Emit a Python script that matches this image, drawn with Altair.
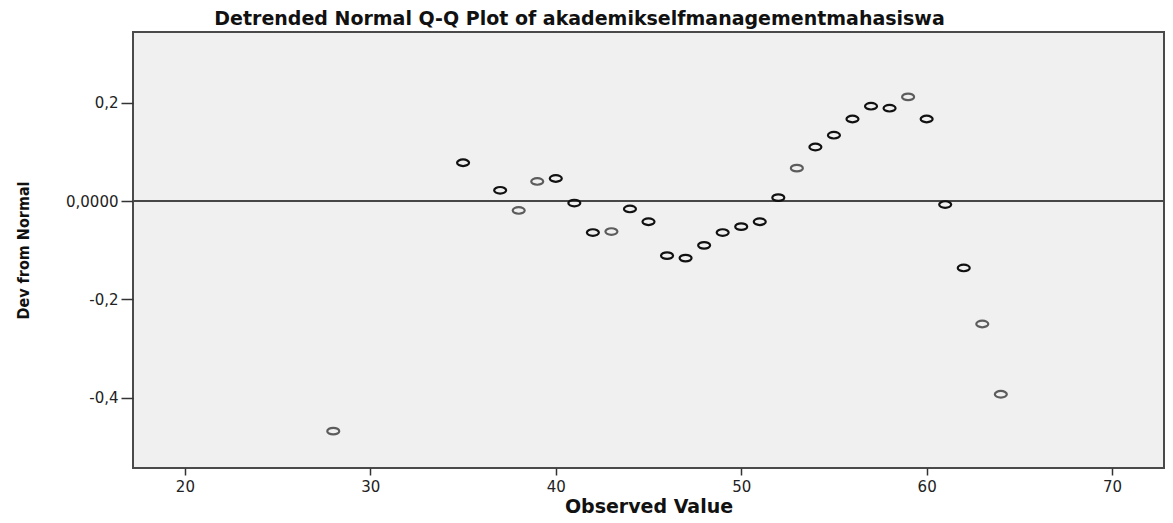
import altair as alt
import pandas as pd

# ---- data ----
observed = [28, 35, 37, 38, 39, 40, 41, 42, 43, 44, 45, 46, 47, 48, 49,
            50, 51, 52, 53, 54, 55, 56, 57, 58, 59, 60, 61, 62, 63, 64]
deviation = [-0.468, 0.078, 0.022, -0.019, 0.040, 0.046, -0.004, -0.064, -0.062, -0.016,
             -0.042, -0.111, -0.116, -0.090, -0.064, -0.052, -0.042, 0.007, 0.067, 0.110,
             0.134, 0.167, 0.193, 0.189, 0.212, 0.167, -0.007, -0.136, -0.250, -0.393]
shade = ["light", "dark", "dark", "light", "light", "dark", "dark", "dark", "light", "dark",
         "dark", "dark", "dark", "dark", "dark", "dark", "dark", "dark", "light", "dark",
         "dark", "dark", "dark", "dark", "light", "dark", "dark", "dark", "light", "light"]

x_ticks = [20, 30, 40, 50, 60, 70]
y_ticks = [-0.4, -0.2, 0.0, 0.2]
y_tick_labels = ["-0,4", "-0,2", "0,0000", "0,2"]
reference_line = [0.0]

df = pd.DataFrame({"observed": observed, "deviation": deviation, "shade": shade})
ref = pd.DataFrame({"ref": reference_line})

# label expression built from the tick label list
expr = "''"
for v, lab in zip(y_ticks, y_tick_labels):
    expr = f"abs(datum.value - ({v})) < 1e-6 ? '{lab}' : ({expr})"

x_scale = alt.Scale(domain=[17.2, 72.8], nice=False, zero=False)
y_scale = alt.Scale(domain=[-0.543, 0.344], nice=False, zero=False)

ellipse = "M -1 0 A 1 0.55 0 1 1 1 0 A 1 0.55 0 1 1 -1 0 Z"

points = alt.Chart(df).mark_point(
    shape=ellipse, filled=False, size=144, strokeWidth=2.2, opacity=1
).encode(
    x=alt.X("observed:Q", scale=x_scale, axis=alt.Axis(
        values=x_ticks, title="Observed Value", grid=False, domain=False,
        tickSize=7, tickWidth=1.5, tickColor="#333333", labelPadding=4,
        labelFont="DejaVu Sans", labelFontSize=15, labelColor="#222222",
        titleFont="DejaVu Sans", titleFontSize=19, titleFontWeight="bold",
        titleColor="#111111", titleBaseline="alphabetic", titleY=44)),
    y=alt.Y("deviation:Q", scale=y_scale, axis=alt.Axis(
        values=y_ticks, labelExpr=expr, title="Dev from Normal", grid=False,
        domain=False, tickSize=12, tickWidth=1.5, tickColor="#333333",
        labelPadding=3, labelFont="DejaVu Sans", labelFontSize=15,
        labelColor="#222222",
        titleFont="DejaVu Sans Condensed, Liberation Sans Narrow, sans-serif",
        titleFontSize=16, titleFontWeight="bold", titleColor="#111111",
        titleAngle=270, titleAlign="center", titleBaseline="middle",
        titleX=-110, titleY=218)),
    color=alt.Color("shade:N", scale=alt.Scale(domain=["dark", "light"],
                    range=["#111111", "#5c5c5c"]), legend=None),
)

rule = alt.Chart(ref).mark_rule(color="#474747", strokeWidth=2).encode(
    y=alt.Y("ref:Q", scale=y_scale)
)

chart = alt.layer(rule, points).properties(
    width=1031, height=436,
    padding={"left": 125, "top": 24, "right": 1, "bottom": 47},
    autosize=alt.AutoSizeParams(type="none"),
    title=alt.TitleParams(
        "Detrended Normal Q-Q Plot of akademikselfmanagementmahasiswa",
        anchor="middle", frame="group", dx=-69, offset=3,
        font="DejaVu Sans", fontSize=19, fontWeight="bold", color="#111111"),
).configure_view(
    fill="#f0f0f0", stroke="#4a4a4a", strokeWidth=2
)

chart.save("out.html", embed_options={"renderer": "svg", "actions": False})
